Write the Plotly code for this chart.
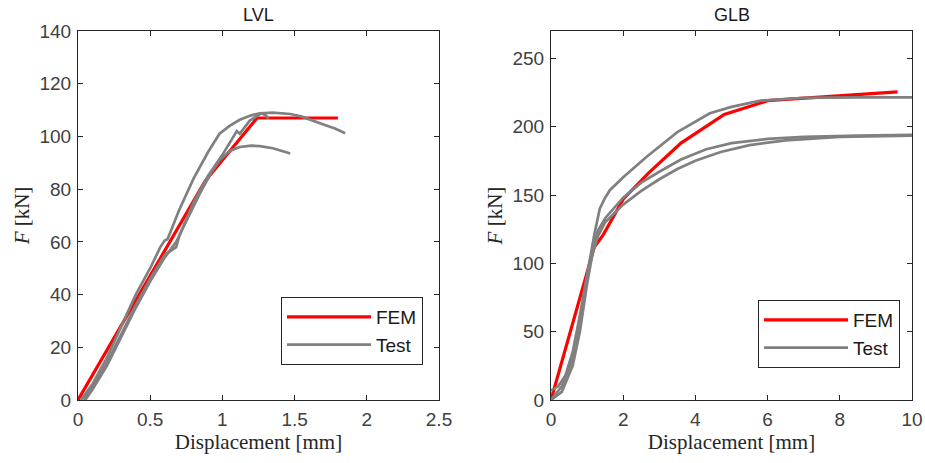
import plotly.graph_objects as go

# ---------------- LVL data ----------------
lvl_fem_x = [0.0, 0.5, 0.88, 1.24, 1.80]
lvl_fem_y = [0.0, 47.0, 83.0, 107.0, 107.0]

lvl_testA_x = [0.02, 0.1, 0.2, 0.3, 0.4, 0.5, 0.57, 0.6, 0.62, 0.7, 0.8, 0.9, 0.98, 1.05, 1.12, 1.2, 1.26, 1.35, 1.47, 1.55, 1.61, 1.7, 1.78, 1.85]
lvl_testA_y = [0.0, 6.0, 16.0, 28.0, 40.0, 50.0, 58.0, 60.5, 61.0, 72.0, 84.0, 94.0, 101.0, 104.0, 106.3, 108.0, 108.8, 109.0, 108.5, 107.5, 106.2, 104.5, 103.0, 101.2]

lvl_testB_x = [0.05, 0.1, 0.2, 0.3, 0.4, 0.5, 0.6, 0.68, 0.75, 0.85, 0.92, 0.98, 1.05, 1.12, 1.2, 1.26, 1.35, 1.42, 1.47]
lvl_testB_y = [0.0, 4.0, 13.0, 24.0, 35.0, 45.0, 54.0, 60.0, 68.0, 79.0, 86.0, 91.0, 94.5, 96.0, 96.5, 96.3, 95.5, 94.5, 93.5]

lvl_testC_x = [0.04, 0.1, 0.2, 0.3, 0.4, 0.5, 0.6, 0.68, 0.7, 0.8, 0.9, 1.0, 1.07, 1.1, 1.12, 1.19, 1.27, 1.3, 1.32]
lvl_testC_y = [0.0, 5.0, 14.0, 25.0, 36.0, 46.0, 55.0, 58.0, 62.0, 75.0, 85.0, 93.0, 99.5, 102.0, 101.0, 106.0, 108.8, 108.0, 106.8]

# ---------------- GLB data ----------------
glb_fem_x = [0.0, 1.2, 1.45, 2.0, 2.7, 3.6, 4.8, 6.0, 9.6]
glb_fem_y = [0.0, 112.0, 121.0, 147.0, 166.0, 188.0, 209.0, 219.0, 225.5]

glb_testU_x = [0.0, 0.2, 0.4, 0.6, 0.8, 1.0, 1.2, 1.35, 1.5, 1.63, 2.0, 2.65, 3.5, 4.4, 5.0, 5.8, 7.0, 8.5, 10.0]
glb_testU_y = [7.0, 10.0, 18.0, 35.0, 62.0, 92.0, 121.0, 140.0, 148.0, 153.5, 163.0, 178.0, 196.0, 209.8, 214.5, 219.0, 221.0, 221.5, 221.5]

glb_testM_x = [0.0, 0.3, 0.6, 0.8, 1.0, 1.15, 1.3, 1.5, 2.0, 2.5, 3.0, 3.6, 4.3, 5.0, 6.0, 7.0, 8.5, 10.0]
glb_testM_y = [0.0, 10.0, 30.0, 55.0, 88.0, 110.0, 124.0, 133.0, 148.0, 159.0, 167.0, 176.0, 183.5, 188.0, 191.0, 192.5, 193.5, 194.0]

glb_testL_x = [0.0, 0.3, 0.6, 0.8, 1.0, 1.15, 1.3, 1.5, 2.0, 2.5, 3.0, 3.5, 4.0, 4.7, 5.5, 6.5, 8.0, 10.0]
glb_testL_y = [0.0, 6.0, 25.0, 50.0, 85.0, 107.0, 120.0, 130.0, 143.0, 153.0, 161.5, 169.0, 175.0, 181.5, 186.5, 190.0, 192.5, 193.5]

lvl_xticks = [0, 0.5, 1, 1.5, 2, 2.5]
lvl_xticklabels = ["0", "0.5", "1", "1.5", "2", "2.5"]
lvl_yticks = [0, 20, 40, 60, 80, 100, 120, 140]
glb_xticks = [0, 2, 4, 6, 8, 10]
glb_yticks = [0, 50, 100, 150, 200, 250]

RED = "#ff0000"
GRAY = "#808080"

fig = go.Figure()

def add_panel(xa, ya, legend, fem_x, fem_y, tests):
    fig.add_trace(go.Scatter(x=fem_x, y=fem_y, mode="lines", name="FEM",
                             line=dict(color=RED, width=3.2), xaxis=xa, yaxis=ya,
                             legend=legend, showlegend=True))
    for i, (tx, ty) in enumerate(tests):
        fig.add_trace(go.Scatter(x=tx, y=ty, mode="lines", name="Test",
                                 line=dict(color=GRAY, width=2.7), xaxis=xa, yaxis=ya,
                                 legend=legend, showlegend=(i == 0)))

add_panel("x", "y", "legend", lvl_fem_x, lvl_fem_y,
          [(lvl_testA_x, lvl_testA_y), (lvl_testB_x, lvl_testB_y), (lvl_testC_x, lvl_testC_y)])
add_panel("x2", "y2", "legend2", glb_fem_x, glb_fem_y,
          [(glb_testU_x, glb_testU_y), (glb_testM_x, glb_testM_y), (glb_testL_x, glb_testL_y)])

W, H = 925, 463

def px(x):
    return x / W

def py(y):
    return 1 - y / H

SANS = "Liberation Sans, Arial, sans-serif"
SERIF = "Liberation Serif, Times New Roman, serif"
tickfont = dict(family=SANS, size=19, color="#404040")
titlefont = dict(family=SERIF, size=21, color="#262626")

axis_common = dict(showline=True, linecolor="#262626", linewidth=1, mirror="ticks",
                   ticks="inside", ticklen=5, tickcolor="#262626", showgrid=False,
                   zeroline=False, tickfont=tickfont, automargin=False)

legend_common = dict(xanchor="left", yanchor="top", bgcolor="white",
                     bordercolor="#262626", borderwidth=1,
                     font=dict(family=SANS, size=19, color="#1a1a1a"),
                     itemwidth=84, tracegroupgap=0)

fig.update_layout(
    width=W, height=H,
    margin=dict(l=0, r=0, t=0, b=0, autoexpand=False),
    paper_bgcolor="white", plot_bgcolor="white",
    xaxis=dict(domain=[px(78), px(439)], range=[0, 2.5], tickvals=lvl_xticks,
               ticktext=lvl_xticklabels, anchor="y", ticklabelstandoff=2,
               title=dict(text="Displacement [mm]", font=titlefont, standoff=4), **axis_common),
    yaxis=dict(domain=[py(400), py(31)], range=[0, 140], tickvals=lvl_yticks, anchor="x",
               ticklabelstandoff=2,
               title=dict(text="<i>F</i> [kN]", font=titlefont, standoff=4), **axis_common),
    xaxis2=dict(domain=[px(551), px(912)], range=[0, 10], tickvals=glb_xticks, anchor="y2",
                ticklabelstandoff=2,
                title=dict(text="Displacement [mm]", font=titlefont, standoff=4), **axis_common),
    yaxis2=dict(domain=[py(400), py(31)], range=[0, 270], tickvals=glb_yticks, anchor="x2",
                ticklabelstandoff=2,
                title=dict(text="<i>F</i> [kN]", font=titlefont, standoff=4), **axis_common),
    legend=dict(x=px(281), y=py(297), **legend_common),
    legend2=dict(x=px(758), y=py(300), **legend_common),
    annotations=[
        dict(text="LVL", x=px((78 + 439) / 2), y=py(15), xref="paper", yref="paper",
             xanchor="center", yanchor="middle", showarrow=False,
             font=dict(family=SANS, size=18, color="#1a1a1a")),
        dict(text="GLB", x=px((551 + 912) / 2), y=py(15), xref="paper", yref="paper",
             xanchor="center", yanchor="middle", showarrow=False,
             font=dict(family=SANS, size=18, color="#1a1a1a")),
    ],
)

# remove the browser's default 8px page margin so the figure fills the window exactly
fig.write_html("out.html", config={"displayModeBar": False},
               post_script="document.body.style.margin='0';")
